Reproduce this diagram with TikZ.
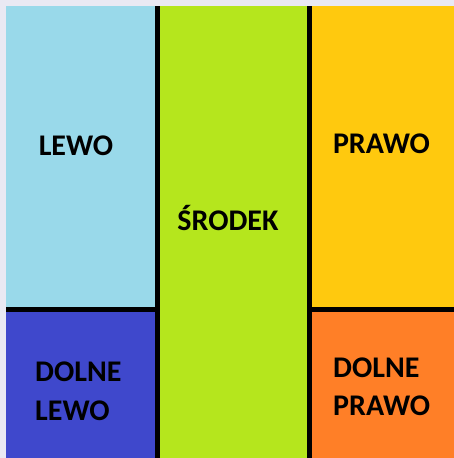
\documentclass[tikz,border=0pt]{standalone}
\usepackage{fontspec}
\setmainfont{Carlito}
\definecolor{bgc}{HTML}{E9E9F3}
\definecolor{lblue}{HTML}{99D9EA}
\definecolor{dblue}{HTML}{3F48CC}
\definecolor{lgreen}{HTML}{B5E61D}
\definecolor{yel}{HTML}{FFC90E}
\definecolor{ora}{HTML}{FF7F27}
\begin{document}
\begin{tikzpicture}[x=1pt,y=-1pt,
  lab/.style={font=\fontsize{30}{38.5}\selectfont\bfseries, text=black, inner sep=0pt, align=left},
  divider/.style={line width=4.6pt, black}]
\useasboundingbox (0,0) rectangle (454,458);
\fill[bgc] (0,0) rectangle (454,458);
\fill[lblue] (6,6) rectangle (157.5,309.5);
\fill[dblue] (6,309.5) rectangle (157.5,458);
\fill[lgreen] (157.5,6) rectangle (309.3,458);
\fill[yel] (309.3,6) rectangle (454,309.5);
\fill[ora] (309.3,309.5) rectangle (454,458);
\coordinate (v1t) at (157.5,6);
\coordinate (v1b) at (157.5,458);
\coordinate (v2t) at (309.3,6);
\coordinate (v2b) at (309.3,458);
\coordinate (h1l) at (6,309.5);
\coordinate (h1r) at (157.5,309.5);
\coordinate (h2l) at (309.3,309.5);
\coordinate (h2r) at (454,309.5);
\draw[divider] (v1t) -- (v1b);
\draw[divider] (v2t) -- (v2b);
\draw[divider] (h1l) -- (h1r);
\draw[divider] (h2l) -- (h2r);
\node[lab, anchor=base] (lewo) at (76,155) {LEWO};
\node[lab, anchor=base] (prawo) at (381.5,153.5) {PRAWO};
\node[lab, anchor=base] (srodek) at (228,230) {ŚRODEK};
\node[lab, anchor=base west] (dlewo) at (35,420) {DOLNE\\LEWO};
\node[lab, anchor=base west] (dprawo) at (333,415.5) {DOLNE\\PRAWO};
\end{tikzpicture}
\end{document}
